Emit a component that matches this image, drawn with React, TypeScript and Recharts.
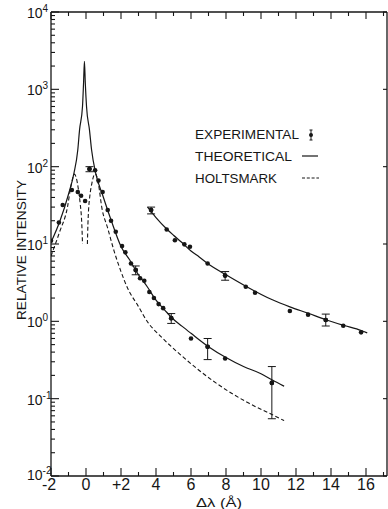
import React from "react";
import { ComposedChart, Line, Scatter, XAxis, YAxis, ErrorBar } from "recharts";

const INK = "#161616";
const FONT = "'Liberation Sans', Arial, Helvetica, sans-serif";

// Theoretical profile (solid) around the line centre
const theoX = [-2.0, -1.5, -1.0, -0.69, -0.47, -0.37, -0.2, -0.14, -0.09, -0.04, 0.03, 0.2, 0.32, 0.55, 0.95, 1.43, 2.0, 2.5, 3.0, 3.5, 4.0, 4.5, 4.87, 5.5, 6.0, 7.0, 8.0, 9.0, 10.0, 10.65, 11.32];
const theoY = [10.5, 19.5, 44, 82, 164, 297, 600, 1200, 2300, 1200, 600, 297, 164, 83, 43, 20.5, 9.3, 6.2, 4.0, 2.8, 1.88, 1.4, 1.13, 0.86, 0.7, 0.47, 0.34, 0.26, 0.21, 0.174, 0.145];

// Holtsmark profile (dashed), left and right of the central dip
const holtLX = [-2.0, -1.5, -1.06, -0.88, -0.75, -0.66, -0.56, -0.44, -0.33, -0.26, -0.23, -0.2];
const holtLY = [7.0, 14.5, 30, 53, 72, 80, 72, 52, 33, 22, 16, 10];
const holtRX = [0.08, 0.11, 0.14, 0.22, 0.33, 0.44, 0.52, 0.62, 0.72, 0.9, 1.24, 1.62, 2.0, 2.38, 2.95, 3.52, 4.3, 5.52, 7.42, 9.32, 10.65, 11.32];
const holtRY = [10, 18, 26, 42, 60, 76, 81, 74, 58, 30, 16, 7.9, 4.4, 2.67, 1.62, 0.98, 0.63, 0.35, 0.16, 0.087, 0.062, 0.052];

// Theoretical wing curve (solid, upper right)
const wingX = [3.52, 4.0, 4.57, 5.0, 5.43, 6.0, 6.47, 6.95, 8.0, 9.13, 10.65, 11.65, 12.7, 13.7, 14.7, 15.73, 16.07];
const wingY = [30, 22, 16, 13, 10.7, 8.1, 6.8, 5.6, 4.0, 2.85, 1.9, 1.54, 1.27, 1.05, 0.89, 0.76, 0.71];

// Experimental points, central profile
const mainPtX = [-2.0, -1.55, -1.33, -0.81, -0.47, -0.28, -0.05, 0.2, 0.52, 0.71, 0.95, 1.24, 1.43, 1.7, 2.06, 2.25, 2.57, 2.84, 3.09, 3.33, 3.62, 3.88, 4.15, 4.41, 4.87, 6.0, 6.95, 7.95, 10.62];
const mainPtY = [11, 19, 32, 50, 47, 42, 36, 93, 90, 66, 47, 27.5, 20, 14.4, 9.4, 7.8, 5.6, 4.6, 3.6, 3.35, 2.4, 2.0, 1.67, 1.48, 1.1, 0.6, 0.47, 0.33, 0.16];

// Experimental points, wing
const wingPtX = [3.72, 4.61, 5.08, 5.62, 5.94, 6.95, 7.95, 9.13, 9.66, 11.65, 12.69, 13.7, 14.7, 15.72];
const wingPtY = [27.5, 15.4, 11.2, 9.9, 9.2, 5.6, 3.9, 2.8, 2.34, 1.36, 1.22, 1.04, 0.875, 0.72];

// Error bars: x, value, low, high
const errX = [0.2, 2.84, 4.87, 6.95, 10.62, 3.72, 7.95, 13.7];
const errY = [93, 4.6, 1.1, 0.47, 0.16, 27.5, 3.9, 1.04];
const errLo = [86, 4.0, 0.94, 0.32, 0.055, 24.5, 3.4, 0.87];
const errHi = [100, 5.2, 1.26, 0.6, 0.26, 30, 4.4, 1.24];

// Axis ticks and labels
const xMinorTicks = [-2, -1, 0, 1, 2, 3, 4, 5, 6, 7, 8, 9, 10, 11, 12, 13, 14, 15, 16, 17];
const xLabelValues = [-2, 0, 2, 4, 6, 8, 10, 12, 14, 16];
const xLabelTexts = ["-2", "0", "+2", "4", "6", "8", "10", "12", "14", "16"];
const yMajor = [0.01, 0.1, 1, 10, 100, 1000, 10000];
const yExp = ["-2", "-1", "0", "1", "2", "3", "4"];
const yTicksAll: number[] = [];
yMajor.forEach((d, i) => {
  yTicksAll.push(d);
  if (i < yMajor.length - 1) for (let k = 2; k <= 9; k++) yTicksAll.push(d * k);
});

const pts = (xs: number[], ys: number[]) => xs.map((x, i) => ({ x, y: ys[i] }));
const theoData = pts(theoX, theoY);
const holtLData = pts(holtLX, holtLY);
const holtRData = pts(holtRX, holtRY);
const wingData = pts(wingX, wingY);
const mainPts = pts(mainPtX, mainPtY);
const wingPts = pts(wingPtX, wingPtY);
const errPts = errX.map((x, i) => ({ x, y: errY[i], err: [errY[i] - errLo[i], errHi[i] - errY[i]] }));

const majorIndex = (v: number) => yMajor.findIndex((m) => Math.abs(Math.log10(v) - Math.log10(m)) < 1e-6);

const BottomTick = (p: any) => {
  const { x, y, payload } = p;
  const idx = xLabelValues.indexOf(payload.value);
  const major = idx >= 0;
  const txt = major ? xLabelTexts[idx] : "";
  const dx = txt === "-2" ? -2 : 0;
  return (
    <g>
      <line x1={x} x2={x} y1={y} y2={y - (major ? 8 : 4)} stroke={INK} strokeWidth={1.1} />
      {major && (
        <text x={x + dx} y={y + 14} textAnchor="middle" fontSize={16} fontFamily={FONT} fill={INK}>
          {txt}
        </text>
      )}
    </g>
  );
};

const TopTick = (p: any) => {
  const { x, y, payload } = p;
  const major = xLabelValues.indexOf(payload.value) >= 0;
  return <line x1={x} x2={x} y1={y} y2={y + (major ? 7 : 4)} stroke={INK} strokeWidth={1.1} />;
};

const LeftTick = (p: any) => {
  const { x, y, payload } = p;
  const idx = majorIndex(payload.value);
  const major = idx >= 0;
  const base = idx === 0 ? 4 : 6;
  return (
    <g>
      <line x1={x} x2={x + (major ? 8 : 4)} y1={y} y2={y} stroke={INK} strokeWidth={1.1} />
      {major && (
        <text x={x - 24} y={y + base} textAnchor="start" fontSize={14} fontFamily={FONT} fill={INK}>
          <tspan>10</tspan>
          <tspan dy={-6} fontSize={10}>{yExp[idx]}</tspan>
        </text>
      )}
    </g>
  );
};

const RightTick = (p: any) => {
  const { x, y } = p;
  return <line x1={x} x2={x - 4} y1={y} y2={y} stroke={INK} strokeWidth={1.1} />;
};

const Dot = (p: any) => <circle cx={p.cx} cy={p.cy} r={2.3} fill={INK} />;

const XTitle = (p: any) => {
  const vb = p.viewBox || { x: 51, y: 476, width: 336, height: 33 };
  return (
    <text x={vb.x + vb.width / 2} y={vb.y + 31} textAnchor="middle" fontSize={13} fontFamily={FONT} fill={INK} textLength={46} lengthAdjust="spacingAndGlyphs">
      Δλ (Å)
    </text>
  );
};

const YTitle = () => (
  <text x={21} y={250} transform="rotate(-90 21 250)" textAnchor="middle" dominantBaseline="central" fontSize={13.5} fontFamily={FONT} fill={INK} textLength={140} lengthAdjust="spacingAndGlyphs">
    RELATIVE INTENSITY
  </text>
);

export default function App() {
  return (
    <div style={{ position: "absolute", left: 0, top: 0, width: 388, height: 509, background: "#fff" }}>
      <ComposedChart width={388} height={509} margin={{ top: 0, right: 0, bottom: 0, left: 0 }}>
        <XAxis
          dataKey="x"
          type="number"
          domain={[-2, 17.2]}
          allowDataOverflow
          ticks={xMinorTicks}
          interval={0}
          tickSize={0}
          tickMargin={0}
          tickLine={false}
          tick={<BottomTick />}
          height={33}
          axisLine={{ stroke: INK, strokeWidth: 1.3 }}
          label={{ content: XTitle }}
        />
        <XAxis
          xAxisId="top"
          orientation="top"
          dataKey="x"
          type="number"
          domain={[-2, 17.2]}
          allowDataOverflow
          ticks={xMinorTicks}
          interval={0}
          tickSize={0}
          tickMargin={0}
          tickLine={false}
          tick={<TopTick />}
          height={12}
          axisLine={{ stroke: INK, strokeWidth: 1.3 }}
        />
        <YAxis
          type="number"
          scale="log"
          domain={[0.01, 10000]}
          allowDataOverflow
          ticks={yTicksAll}
          interval={0}
          tickSize={0}
          tickMargin={0}
          tickLine={false}
          tick={<LeftTick />}
          width={51}
          axisLine={{ stroke: INK, strokeWidth: 1.3 }}
          label={{ content: YTitle }}
        />
        <YAxis
          yAxisId="r"
          orientation="right"
          type="number"
          scale="log"
          domain={[0.01, 10000]}
          allowDataOverflow
          ticks={yMajor}
          interval={0}
          tickSize={0}
          tickMargin={0}
          tickLine={false}
          tick={<RightTick />}
          width={1}
          axisLine={{ stroke: INK, strokeWidth: 1.3 }}
        />
        <Line data={theoData} dataKey="y" type="monotone" stroke={INK} strokeWidth={1.2} dot={false} isAnimationActive={false} />
        <Line data={wingData} dataKey="y" type="monotone" stroke={INK} strokeWidth={1.2} dot={false} isAnimationActive={false} />
        <Line data={holtLData} dataKey="y" type="monotone" stroke={INK} strokeWidth={1.1} strokeDasharray="4 2.5" dot={false} isAnimationActive={false} />
        <Line data={holtRData} dataKey="y" type="monotone" stroke={INK} strokeWidth={1.1} strokeDasharray="4 2.5" dot={false} isAnimationActive={false} />
        <Scatter data={mainPts} dataKey="y" shape={Dot} isAnimationActive={false} />
        <Scatter data={wingPts} dataKey="y" shape={Dot} isAnimationActive={false} />
        <Scatter data={errPts} dataKey="y" shape={Dot} isAnimationActive={false}>
          <ErrorBar dataKey="err" direction="y" width={4} stroke={INK} strokeWidth={1} isAnimationActive={false} />
        </Scatter>
      </ComposedChart>
      <svg width={388} height={509} style={{ position: "absolute", left: 0, top: 0, pointerEvents: "none" }}>
        <g fontFamily={FONT} fontSize={13.5} fill={INK}>
          <text x={195} y={139} textLength={104} lengthAdjust="spacingAndGlyphs">EXPERIMENTAL</text>
          <text x={195} y={161} textLength={97} lengthAdjust="spacingAndGlyphs">THEORETICAL</text>
          <text x={195} y={183} textLength={82} lengthAdjust="spacingAndGlyphs">HOLTSMARK</text>
        </g>
        <g stroke={INK} strokeWidth={1}>
          <line x1={311} x2={311} y1={130} y2={140} />
          <line x1={309.5} x2={312.5} y1={130} y2={130} />
          <line x1={309.5} x2={312.5} y1={140} y2={140} />
          <line x1={302} x2={318} y1={156} y2={156} strokeWidth={1.2} />
          <line x1={302} x2={319} y1={178} y2={178} strokeDasharray="3 1.8" />
        </g>
        <circle cx={311} cy={135} r={2} fill={INK} />
      </svg>
    </div>
  );
}
